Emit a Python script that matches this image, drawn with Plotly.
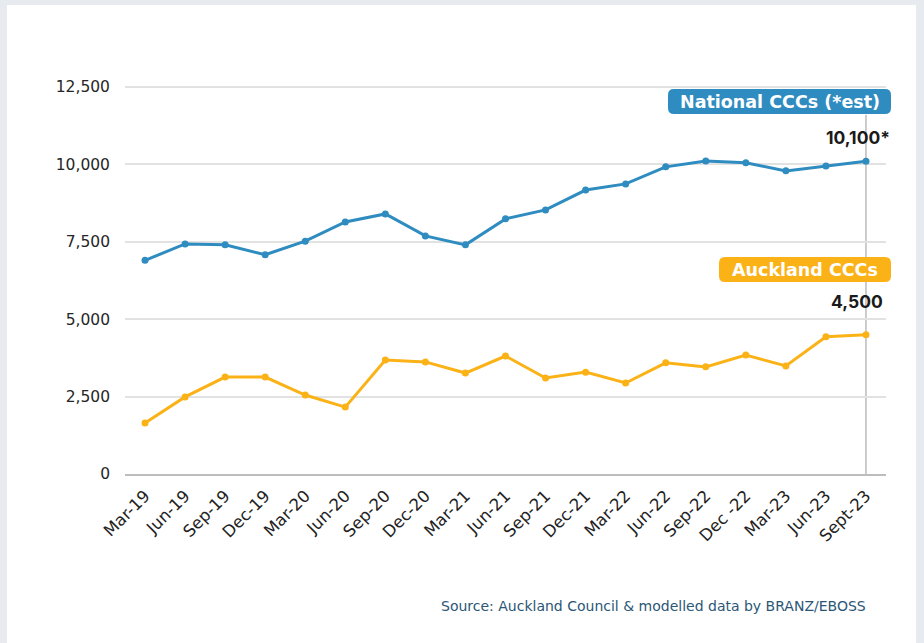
import plotly.graph_objects as go

quarters = ["Mar-19", "Jun-19", "Sep-19", "Dec-19", "Mar-20", "Jun-20", "Sep-20",
            "Dec-20", "Mar-21", "Jun-21", "Sep-21", "Dec-21", "Mar-22", "Jun-22",
            "Sep-22", "Dec -22", "Mar-23", "Jun-23", "Sept-23"]
national_cccs = [6900, 7430, 7400, 7080, 7520, 8140, 8400, 7690, 7400, 8240, 8530,
                 9170, 9370, 9920, 10110, 10050, 9790, 9950, 10100]
auckland_cccs = [1650, 2490, 3130, 3130, 2550, 2160, 3680, 3620, 3260, 3810, 3100,
                 3290, 2940, 3590, 3460, 3840, 3490, 4430, 4500]
y_ticks = [0, 2500, 5000, 7500, 10000, 12500]

BLUE = "#2f8cc0"
ORANGE = "#fbb217"
FONT = "Inter"
WIDE = "DejaVu Sans"

W, H = 924, 643
L, R, T, B = 125, 38, 56, 169
pw, ph = W - L - R, H - T - B


def px(xp):
    return (xp - L) / pw


def py(yp):
    return (H - B - yp) / ph


def pill(x0, y0, x1, y1, r, color):
    """Rounded rectangle given in page pixels, returned as a paper-space path shape."""
    pts = [
        ("M", x0 + r, y0), ("L", x1 - r, y0), ("Q", x1, y0, x1, y0 + r),
        ("L", x1, y1 - r), ("Q", x1, y1, x1 - r, y1), ("L", x0 + r, y1),
        ("Q", x0, y1, x0, y1 - r), ("L", x0, y0 + r), ("Q", x0, y0, x0 + r, y0),
    ]
    parts = []
    for p in pts:
        cmd, coords = p[0], p[1:]
        xy = []
        for i in range(0, len(coords), 2):
            xy.append(f"{px(coords[i]):.5f},{py(coords[i + 1]):.5f}")
        parts.append(cmd + " ".join(xy))
    return dict(type="path", xref="paper", yref="paper", path=" ".join(parts) + " Z",
                fillcolor=color, line=dict(width=0), layer="above")


fig = go.Figure()

fig.add_trace(go.Scatter(
    x=quarters, y=national_cccs, mode="lines+markers",
    line=dict(color=BLUE, width=3), marker=dict(color=BLUE, size=7),
    name="National CCCs (*est)", hoverinfo="x+y",
))
fig.add_trace(go.Scatter(
    x=quarters, y=auckland_cccs, mode="lines+markers",
    line=dict(color=ORANGE, width=3), marker=dict(color=ORANGE, size=7),
    name="Auckland CCCs", hoverinfo="x+y",
))

last = quarters[-1]
shapes = [
    # white card on the grey page
    dict(type="rect", xref="paper", yref="paper", x0=px(7), x1=px(916), y0=py(643),
         y1=py(5), fillcolor="white", line=dict(width=0), layer="below"),
    # marker line at the latest quarter
    dict(type="line", xref="x", yref="y", x0=last, x1=last, y0=0, y1=11600,
         line=dict(color="#9a9a9a", width=1), layer="below"),
    pill(668, 89, 891, 114, 6, BLUE),
    pill(719, 257, 891, 282, 6, ORANGE),
]

annotations = [
    dict(xref="paper", yref="paper", x=px(779.5), y=py(101.5), xanchor="center", yanchor="middle",
         text="<b>National CCCs (*est)</b>", showarrow=False,
         font=dict(family=WIDE, size=17.5, color="white")),
    dict(xref="paper", yref="y", x=px(892), y=national_cccs[-1], yshift=24,
         xanchor="right", yanchor="middle",
         text=f"<b>{national_cccs[-1]:,}*</b>", showarrow=False,
         font=dict(family=FONT, size=17.5, color="#1a1a1a")),
    dict(xref="paper", yref="paper", x=px(805), y=py(269.5), xanchor="center", yanchor="middle",
         text="<b>Auckland CCCs</b>", showarrow=False,
         font=dict(family=WIDE, size=17.5, color="white")),
    dict(xref="paper", yref="y", x=px(885), y=auckland_cccs[-1], yshift=33,
         xanchor="right", yanchor="middle",
         text=f"<b>{auckland_cccs[-1]:,}</b>", showarrow=False,
         font=dict(family=FONT, size=17.5, color="#1a1a1a")),
    dict(xref="paper", yref="paper", x=px(868), y=py(606), xanchor="right", yanchor="middle",
         text="Source: Auckland Council &amp; modelled data by BRANZ/EBOSS", showarrow=False,
         font=dict(family=WIDE, size=14, color="#2b5676")),
]

fig.update_layout(
    width=W, height=H,
    margin=dict(l=L, r=R, t=T, b=B, pad=0),
    paper_bgcolor="#e7ebef",
    plot_bgcolor="white",
    showlegend=False,
    shapes=shapes,
    annotations=annotations,
    font=dict(family=FONT, color="#333333"),
    xaxis=dict(
        type="category", range=[-0.5, len(quarters) - 0.5],
        tickangle=-45, showgrid=False, ticks="", showline=True,
        linecolor="#bdbdbd", linewidth=1.5, ticklabelstandoff=4,
        tickfont=dict(family=WIDE, size=16.5, color="#222222"),
        fixedrange=True,
    ),
    yaxis=dict(
        range=[0, 13500], tickvals=y_ticks, tickformat=",",
        showgrid=True, gridcolor="#e2e2e2", gridwidth=1.5, zeroline=False,
        ticks="", ticklabelstandoff=14,
        tickfont=dict(family=WIDE, size=15.5, color="#262626"),
        fixedrange=True,
    ),
)

fig.write_html("out.html")
